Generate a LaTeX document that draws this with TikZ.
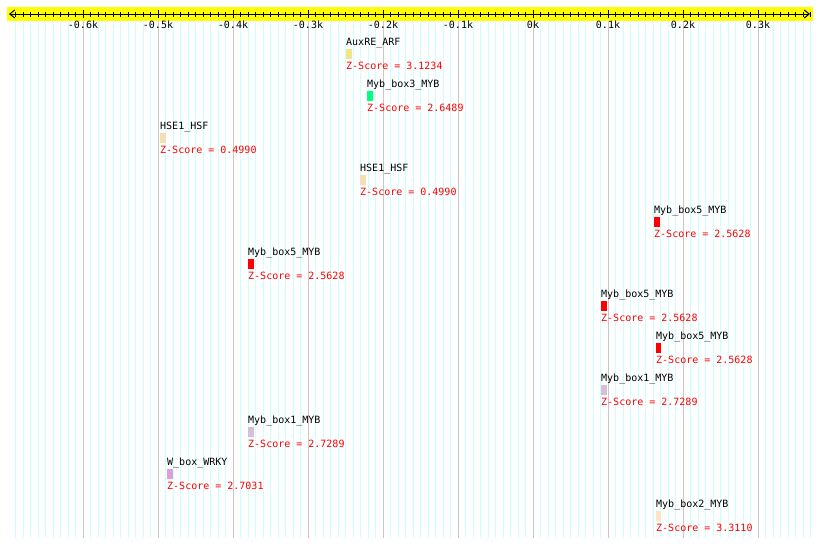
\documentclass[tikz,border=0pt]{standalone}
\usepackage{fontspec}
\newfontfamily\tfmono{DejaVu Sans Mono}
\usetikzlibrary{arrows.meta}
\definecolor{tfband}{HTML}{FFFF00}
\definecolor{tfminor}{HTML}{CCFFFF}
\definecolor{tfmajor}{HTML}{C8C8C8}
\definecolor{tfscore}{HTML}{FF0000}
\definecolor{tfauxre}{HTML}{F0E68C}
\definecolor{tfmybthree}{HTML}{00FF7F}
\definecolor{tfhse}{HTML}{F5DEB3}
\definecolor{tfmybfive}{HTML}{FF0000}
\definecolor{tfmybone}{HTML}{D8BFD8}
\definecolor{tfwbox}{HTML}{DDA0DD}
\definecolor{tfmybtwo}{HTML}{FFE4C4}
\tikzset{
  every picture/.style={line join=round},
  site/.style={rectangle, inner sep=0pt, minimum width=6pt, minimum height=10pt,
    anchor=north west},
  sitename/.style={font=\tfmono\fontsize{10}{12}\selectfont, inner sep=0pt,
    anchor=base west},
  score/.style={sitename, text=tfscore},
  axislbl/.style={font=\tfmono\fontsize{10}{12}\selectfont, inner sep=0pt},
  ruler/.style={{Straight Barb[length=5pt, width=8pt]}-{Straight Barb[length=5pt, width=8pt]},
    line width=1pt},
  bigtick/.style={line width=1pt},
  smalltick/.style={line width=0.8pt},
  gridminor/.style={draw=tfminor, line width=1pt},
  gridmajor/.style={draw=tfmajor, line width=1pt},
}

\begin{document}
\begin{tikzpicture}[x=1pt, y=-1pt]
\useasboundingbox[fill=white] (0,0) rectangle (820,547);

% ---- Grid (one line per 10 bp, grey every 100 bp)
\foreach \t in {-69,...,37}
  \draw[gridminor] ({533+7.5*\t},21) -- ({533+7.5*\t},538);
\foreach \t in {-6,...,3}
  \draw[gridmajor] ({533+75*\t},21) -- ({533+75*\t},538);

% ---- Ruler
\fill[tfband] (7,7) rectangle (813,21);
\coordinate (rstart) at (9,14);
\coordinate (rend)   at (810,14);
\draw[ruler] (rstart) -- (rend);
\foreach \t in {-69,...,37}
  \draw[smalltick] ({533+7.5*\t},11.5) -- ({533+7.5*\t},16.5);
\foreach \t/\lab in {-6/-0.6k, -5/-0.5k, -4/-0.4k, -3/-0.3k, -2/-0.2k, -1/-0.1k,
    0/0k, 1/0.1k, 2/0.2k, 3/0.3k} {
  \draw[bigtick] ({533+75*\t},10) -- ({533+75*\t},18);
  \node[axislbl] (tick\t) at ({533+75*\t},24.5) {\lab};
}

% ---- Binding sites, one row each
\node[site, fill=tfauxre] (auxre) at (346,49) {};
\node[sitename, yshift=3.5pt] (auxre-name) at (auxre.north west) {AuxRE\_ARF};
\node[score, yshift=-10pt] (auxre-score) at (auxre.south west) {Z-Score = 3.1234};

\node[site, fill=tfmybthree] (mybthree) at (367,91) {};
\node[sitename, yshift=3.5pt] (mybthree-name) at (mybthree.north west) {Myb\_box3\_MYB};
\node[score, yshift=-10pt] (mybthree-score) at (mybthree.south west) {Z-Score = 2.6489};

\node[site, fill=tfhse] (hsea) at (160,133) {};
\node[sitename, yshift=3.5pt] (hsea-name) at (hsea.north west) {HSE1\_HSF};
\node[score, yshift=-10pt] (hsea-score) at (hsea.south west) {Z-Score = 0.4990};

\node[site, fill=tfhse] (hseb) at (360,175) {};
\node[sitename, yshift=3.5pt] (hseb-name) at (hseb.north west) {HSE1\_HSF};
\node[score, yshift=-10pt] (hseb-score) at (hseb.south west) {Z-Score = 0.4990};

\node[site, fill=tfmybfive] (mybfivea) at (654,217) {};
\node[sitename, yshift=3.5pt] (mybfivea-name) at (mybfivea.north west) {Myb\_box5\_MYB};
\node[score, yshift=-10pt] (mybfivea-score) at (mybfivea.south west) {Z-Score = 2.5628};

\node[site, fill=tfmybfive] (mybfiveb) at (248,259) {};
\node[sitename, yshift=3.5pt] (mybfiveb-name) at (mybfiveb.north west) {Myb\_box5\_MYB};
\node[score, yshift=-10pt] (mybfiveb-score) at (mybfiveb.south west) {Z-Score = 2.5628};

\node[site, fill=tfmybfive] (mybfivec) at (601,301) {};
\node[sitename, yshift=3.5pt] (mybfivec-name) at (mybfivec.north west) {Myb\_box5\_MYB};
\node[score, yshift=-10pt] (mybfivec-score) at (mybfivec.south west) {Z-Score = 2.5628};

\node[site, fill=tfmybfive, minimum width=5pt] (mybfived) at (656,343) {};
\node[sitename, yshift=3.5pt] (mybfived-name) at (mybfived.north west) {Myb\_box5\_MYB};
\node[score, yshift=-10pt] (mybfived-score) at (mybfived.south west) {Z-Score = 2.5628};

\node[site, fill=tfmybone] (mybonea) at (601,385) {};
\node[sitename, yshift=3.5pt] (mybonea-name) at (mybonea.north west) {Myb\_box1\_MYB};
\node[score, yshift=-10pt] (mybonea-score) at (mybonea.south west) {Z-Score = 2.7289};

\node[site, fill=tfmybone] (myboneb) at (248,427) {};
\node[sitename, yshift=3.5pt] (myboneb-name) at (myboneb.north west) {Myb\_box1\_MYB};
\node[score, yshift=-10pt] (myboneb-score) at (myboneb.south west) {Z-Score = 2.7289};

\node[site, fill=tfwbox] (wbox) at (167,469) {};
\node[sitename, yshift=3.5pt] (wbox-name) at (wbox.north west) {W\_box\_WRKY};
\node[score, yshift=-10pt] (wbox-score) at (wbox.south west) {Z-Score = 2.7031};

\node[site, fill=tfmybtwo, minimum width=5pt] (mybtwo) at (656,511) {};
\node[sitename, yshift=3.5pt] (mybtwo-name) at (mybtwo.north west) {Myb\_box2\_MYB};
\node[score, yshift=-10pt] (mybtwo-score) at (mybtwo.south west) {Z-Score = 3.3110};

\end{tikzpicture}
\end{document}
